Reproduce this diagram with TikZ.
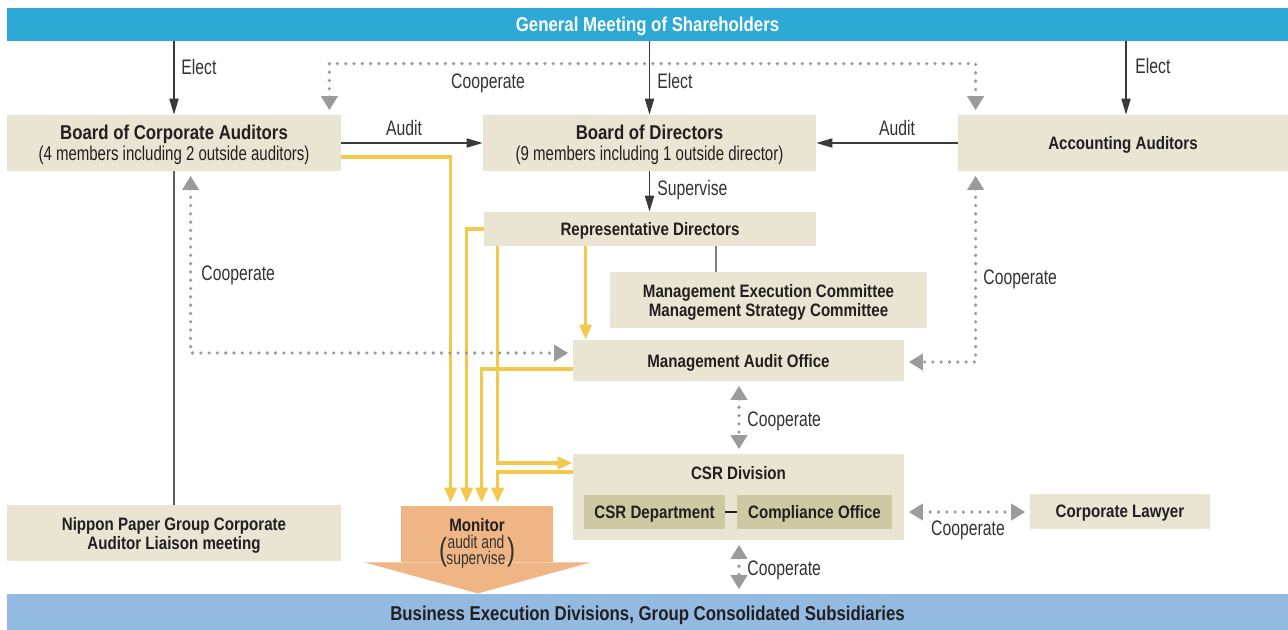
\documentclass[tikz,border=0pt]{standalone}
\usepackage{fontspec}
\setmainfont{Liberation Sans}
\newfontfamily\bfnt{Liberation Sans}[FakeStretch=0.84]
\newfontfamily\rfnt{Liberation Sans}[FakeStretch=0.75]
\usetikzlibrary{arrows.meta,calc}
\definecolor{topc}{HTML}{2DA9D6}
\definecolor{botc}{HTML}{93BBE2}
\definecolor{boxc}{HTML}{E9E5D2}
\definecolor{innc}{HTML}{CFC9A3}
\definecolor{monc}{HTML}{F0B584}
\definecolor{yelc}{HTML}{F3C84B}
\definecolor{dotc}{HTML}{9B9B9E}
\definecolor{txtc}{HTML}{231F20}
\definecolor{linec}{HTML}{3A3A3A}
\definecolor{lblc}{HTML}{333333}
\tikzset{
  gtip/.tip={Triangle[length=7pt,width=8pt,sep=1.2pt]},
  ytip/.tip={Triangle[length=7.5pt,width=6pt]},
  btip/.tip={Triangle[length=8pt,width=4.6pt]},
}
\begin{document}
\begin{tikzpicture}[x=0.5pt,y=-0.5pt,
  sz/.style 2 args={minimum width=#1*0.5pt,minimum height=#2*0.5pt},
  box/.style={fill=boxc,inner sep=0pt,text=txtc,align=center,text depth=0pt,font=\bfnt\bfseries\fontsize{9}{9.5}\selectfont},
  bigf/.style={font=\bfnt\bfseries\fontsize{10}{10.5}\selectfont},
  bar/.style={inner sep=0pt,text depth=0pt,font=\bfnt\bfseries\fontsize{10}{12}\selectfont},
  lbl/.style={inner sep=0pt,text depth=0pt,text=lblc,font=\rfnt\fontsize{10.5}{12}\selectfont},
  blk/.style={draw=linec,line width=0.65pt,-btip},
  plain/.style={draw=#1,line width=0.6pt},
  yel/.style={draw=yelc,line width=1.75pt,-ytip},
  coop/.style={draw=dotc,line width=1.8pt,line cap=round,dash pattern=on 0pt off 4.15pt,gtip-gtip},
  msub/.style={inner sep=0pt,text depth=0pt,text=lblc,font=\rfnt\fontsize{9.2}{10}\selectfont},
]
\fill[white] (0,0) rectangle (1288,629);
\useasboundingbox (0,0) rectangle (1288,629);

% bars
\node[bar,fill=topc,sz={1281}{33},text=white] (gms) at (647.5,24.5) {General Meeting of Shareholders};
\node[bar,fill=botc,sz={1281}{38},text=txtc] (bot) at (647.5,613) {Business Execution Divisions, Group Consolidated Subsidiaries};

% boxes
\node[box,bigf,sz={334}{56}] (bca) at (174,143) {Board of Corporate Auditors\\{\rfnt\mdseries\fontsize{10}{10.5}\selectfont (4 members including 2 outside auditors)}};
\node[box,bigf,sz={333}{56}] (bod) at (649.5,143) {Board of Directors\\{\rfnt\mdseries\fontsize{10}{10.5}\selectfont (9 members including 1 outside director)}};
\node[box,sz={330}{56}] (acc) at (1123,143) {Accounting Auditors};
\node[box,sz={332}{34}] (rep) at (650,229) {Representative Directors};
\node[box,sz={317}{56}] (mec) at (768.5,300) {Management Execution Committee\\Management Strategy Committee};
\node[box,sz={331}{41}] (mao) at (738.5,360.5) {Management Audit Office};
\node[box,sz={331}{86}] (csr) at (738.5,497) {};
\node[box,fill=none] (csrt) at (738.5,473) {CSR Division};
\node[box,fill=innc,sz={141}{34}] (csrd) at (654.5,512) {CSR Department};
\node[box,fill=innc,sz={155}{34}] (comp) at (814.5,512) {Compliance Office};
\node[box,sz={180}{35}] (law) at (1120,511.5) {Corporate Lawyer};
\node[box,sz={334}{56}] (npg) at (174,533) {Nippon Paper Group Corporate\\Auditor Liaison meeting};

% monitor arrow
\node[fill=monc,sz={152}{56},inner sep=0pt] (mon) at (477,534) {};
\fill[monc] ($(mon.south west)+(-36,0)$) -- ($(mon.south east)+(37,0)$) -- ($(mon.south)+(1,31)$) -- cycle;
\node[inner sep=0pt,text depth=0pt,text=txtc,font=\bfnt\bfseries\fontsize{9}{10}\selectfont] (montt) at (477,525) {Monitor};
\node[msub] (mona) at (476,542) {audit and};
\node[msub] (mons) at (476,558) {supervise};
\node[inner sep=0pt,text=lblc,font=\rfnt\fontsize{16}{16}\selectfont] (monl) at (443,552) {(};
\node[inner sep=0pt,text=lblc,font=\rfnt\fontsize{16}{16}\selectfont] (monr) at (511,552) {)};

% helper coordinates
\coordinate (accn) at ($(acc.north)+(3,0)$);
\coordinate (reps) at ($(rep.south)+(66,0)$);
\coordinate (repy) at ($(rep.south west)+(102,0)$);

% plain lines
\draw[plain=txtc] (csrd.east) -- (comp.west);
\draw[plain=gray] (reps) -- (reps |- mec.north);
\draw[plain=linec!80] (bca.south) -- (npg.north);

% black arrows
\draw[blk] (bca.north |- gms.south) -- (bca.north);
\draw[blk] (bod.north |- gms.south) -- (bod.north);
\draw[blk] (accn |- gms.south) -- (accn);
\draw[blk] (bca.east) -- (bod.west);
\draw[blk] (acc.west) -- (bod.east);
\draw[blk] (bod.south) -- (bod.south |- rep.north);

% yellow arrows
\draw[yel] ($(bca.east)+(0,14)$) -| ($(mon.north west)+(50,-3)$);
\draw[yel] (rep.west) -| ($(mon.north west)+(66,-3)$);
\draw[yel] ($(mao.west)+(0,8.5)$) -| ($(mon.north west)+(81,-3)$);
\draw[yel] ($(rep.south west)+(14,0)$) |- ($(csr.west)+(0,-34)$);
\draw[yel] ($(csr.west)+(0,-25)$) -| ($(mon.north west)+(97,-3)$);
\draw[yel] (repy) -- (repy |- mao.north);

% cooperate dotted arrows
\draw[coop] ($(bca.north east)+(-12,-2)$) -- ++(0,-49) -| ($(acc.north west)+(18,-2)$);
\draw[coop] ($(bca.south west)+(184,2)$) |- ($(mao.west)+(-2,-7.5)$);
\draw[coop] ($(acc.south west)+(18,2)$) |- ($(mao.east)+(2,1.5)$);
\draw[coop] ($(mao.south)+(0.5,2)$) -- ($(csr.north)+(0.5,-2)$);
\draw[coop] ($(csr.east |- comp.east)+(2,0)$) -- ($(law.west |- comp.east)+(-2,0)$);
\draw[coop] ($(csr.south)+(0.5,2)$) -- ($(csr.south |- bot.north)+(0.5,-2)$);

% labels
\node[lbl,anchor=west] (e1) at (181,67) {Elect};
\node[lbl,anchor=west] (e2) at (657,81) {Elect};
\node[lbl,anchor=west] (e3) at (1135,66) {Elect};
\node[lbl] (ctop) at (488,81) {Cooperate};
\node[lbl] (a1) at (404,128) {Audit};
\node[lbl] (a2) at (897,128) {Audit};
\node[lbl,anchor=west] (sup) at (657,188) {Supervise};
\node[lbl,anchor=west] (cl) at (201,273) {Cooperate};
\node[lbl,anchor=west] (cr) at (983,277) {Cooperate};
\node[lbl,anchor=west] (cm) at (747,419) {Cooperate};
\node[lbl] (cw) at (968,528) {Cooperate};
\node[lbl,anchor=west] (cb) at (747,568) {Cooperate};
\end{tikzpicture}
\end{document}
